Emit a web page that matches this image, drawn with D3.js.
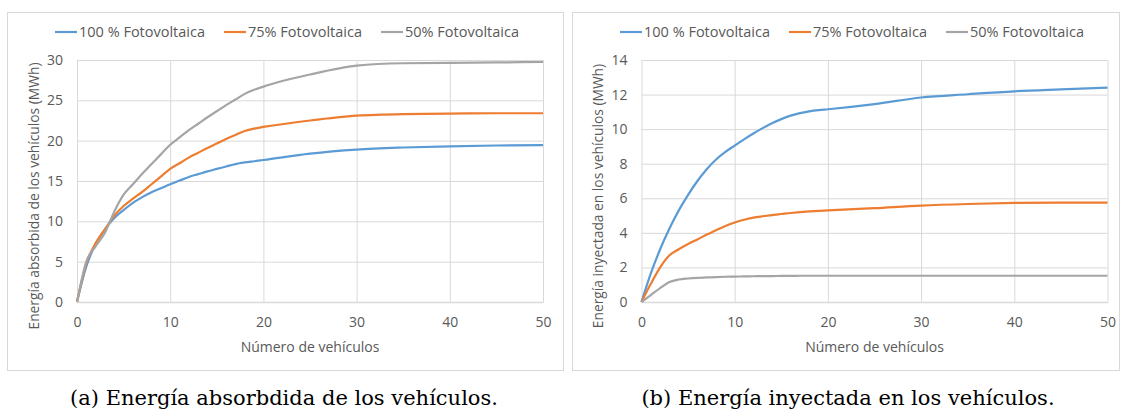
<!DOCTYPE html>
<html>
<head>
<meta charset="utf-8">
<script src="https://cdn.jsdelivr.net/npm/d3@7"></script>
<style>
  body { margin: 0; background: #fff; }
  svg { display: block; }
  .tick text { font-family: "Open Sans", sans-serif; font-size: 14px; fill: #595959; }
</style>
</head>
<body>
<svg width="1124" height="412"></svg>
<script>
// number of vehicles (x values shared by every series)
var vehiculos = [0, 1, 2, 3, 4, 5, 6, 7, 8, 9, 10, 11, 12, 13, 14, 15, 16, 17, 18, 19, 20, 25, 30, 35, 40, 45, 50];

var seriesNames = ["100 % Fotovoltaica", "75% Fotovoltaica", "50% Fotovoltaica"];
var colors = ["#5b9bd5", "#ed7d31", "#a5a5a5"];

// (a) energia absorbida (MWh)
var absorbida100 = [0, 4.4, 7.2, 9.0, 10.4, 11.4, 12.3, 13.0, 13.6, 14.1, 14.6, 15.05, 15.5, 15.85, 16.2, 16.5, 16.8, 17.1, 17.3, 17.45, 17.6, 18.4, 18.9, 19.15, 19.3, 19.4, 19.45];
var absorbida75  = [0, 4.8, 7.3, 9.0, 10.7, 11.9, 12.8, 13.65, 14.6, 15.55, 16.5, 17.2, 17.9, 18.5, 19.1, 19.65, 20.2, 20.7, 21.2, 21.5, 21.7, 22.5, 23.1, 23.3, 23.35, 23.4, 23.4];
var absorbida50  = [0, 5.0, 6.9, 8.6, 11.2, 13.3, 14.6, 15.9, 17.1, 18.3, 19.5, 20.4, 21.3, 22.1, 22.9, 23.65, 24.4, 25.1, 25.8, 26.3, 26.7, 28.2, 29.3, 29.6, 29.65, 29.7, 29.75];

// (b) energia inyectada (MWh)
var inyectada100 = [0, 1.65, 3.05, 4.25, 5.3, 6.2, 7.0, 7.68, 8.24, 8.68, 9.05, 9.41, 9.75, 10.06, 10.34, 10.58, 10.78, 10.93, 11.03, 11.1, 11.15, 11.45, 11.83, 12.02, 12.19, 12.3, 12.4];
var inyectada75  = [0, 1.05, 2.0, 2.7, 3.05, 3.35, 3.62, 3.9, 4.15, 4.4, 4.6, 4.76, 4.88, 4.96, 5.03, 5.09, 5.15, 5.2, 5.24, 5.27, 5.3, 5.43, 5.58, 5.67, 5.73, 5.75, 5.75];
var inyectada50  = [0, 0.4, 0.8, 1.15, 1.3, 1.36, 1.4, 1.42, 1.44, 1.46, 1.47, 1.48, 1.49, 1.5, 1.5, 1.51, 1.51, 1.52, 1.52, 1.52, 1.52, 1.52, 1.52, 1.52, 1.52, 1.52, 1.52];

var xTicks = [0, 10, 20, 30, 40, 50];
var yTicksA = [0, 5, 10, 15, 20, 25, 30];
var yTicksB = [0, 2, 4, 6, 8, 10, 12, 14];

var svg = d3.select("svg");

function panel(opts) {
	var g = svg.append("g").attr("transform", "translate(" + opts.left + ",0)");

	g.append("rect")
		.attr("x", 0.5).attr("y", 12.5)
		.attr("width", opts.boxWidth).attr("height", 358)
		.attr("fill", "#fff").attr("stroke", "#d9d9d9");

	var x = d3.scaleLinear().domain([0, 50]).range([opts.plotLeft, opts.plotLeft + 466]),
		y = d3.scaleLinear().domain([0, opts.yMax]).range([302, 60]);

	// gridlines
	g.append("g")
		.attr("transform", "translate(0,302)")
		.call(d3.axisBottom(x).tickValues(xTicks).tickSize(-242).tickFormat(""))
		.call(function(a) { a.select(".domain").remove(); })
		.selectAll("line").attr("stroke", "#d9d9d9");
	g.append("g")
		.attr("transform", "translate(" + opts.plotLeft + ",0)")
		.call(d3.axisLeft(y).tickValues(opts.yTicks).tickSize(-466).tickFormat(""))
		.call(function(a) { a.select(".domain").remove(); })
		.selectAll("line").attr("stroke", "#d9d9d9");

	// axis labels
	g.append("g")
		.attr("transform", "translate(0,302)")
		.call(d3.axisBottom(x).tickValues(xTicks).tickSize(0).tickPadding(15))
		.call(function(a) { a.select(".domain").attr("stroke", "#d9d9d9").attr("stroke-width", 1.5); });
	g.append("g")
		.attr("transform", "translate(" + opts.plotLeft + ",0)")
		.call(d3.axisLeft(y).tickValues(opts.yTicks).tickSize(0).tickPadding(14))
		.call(function(a) { a.select(".domain").remove(); });

	var line = d3.line()
		.curve(d3.curveMonotoneX)
		.x(function(d, i) { return x(vehiculos[i]); })
		.y(function(d) { return y(d); });

	g.selectAll(".serie")
		.data(opts.series)
		.enter().append("path")
		.attr("class", "serie")
		.attr("fill", "none")
		.attr("stroke", function(d, i) { return colors[i]; })
		.attr("stroke-width", 2.2)
		.attr("stroke-linejoin", "round")
		.attr("d", line);

	// legend
	var legendX = [48, 217, 374];
	var leg = g.selectAll(".leg")
		.data(seriesNames)
		.enter().append("g")
		.attr("class", "leg")
		.attr("transform", function(d, i) { return "translate(" + legendX[i] + ",32)"; });
	leg.append("line")
		.attr("x1", 0).attr("x2", 22)
		.attr("stroke", function(d, i) { return colors[i]; })
		.attr("stroke-width", 2.2);
	leg.append("text")
		.attr("x", 24).attr("dy", "0.35em")
		.style("font", "14.5px 'Open Sans', sans-serif")
		.attr("fill", "#595959")
		.text(function(d) { return d; });

	g.append("text")
		.attr("transform", "translate(" + (opts.plotLeft - 43) + ",196) rotate(-90)")
		.attr("text-anchor", "middle")
		.attr("dy", "0.35em")
		.style("font", "13.8px 'Open Sans', sans-serif")
		.attr("fill", "#595959")
		.text(opts.yTitle);

	g.append("text")
		.attr("x", opts.plotLeft + 233).attr("y", 347)
		.attr("text-anchor", "middle")
		.attr("dy", "0.35em")
		.style("font", "14px 'Open Sans', sans-serif")
		.attr("fill", "#595959")
		.text("Número de vehículos");

	g.append("text")
		.attr("x", opts.captionX).attr("y", 398)
		.attr("text-anchor", "middle")
		.attr("dy", "0.35em")
		.style("font", "21px 'DejaVu Serif', serif")
		.attr("fill", "#000")
		.text(opts.caption);
}

panel({
	left: 7, boxWidth: 556, plotLeft: 70, yMax: 30, yTicks: yTicksA,
	series: [absorbida100, absorbida75, absorbida50],
	yTitle: "Energía absorbida de los vehículos (MWh)",
	caption: "(a) Energía absorbdida de los vehículos.", captionX: 277
});
panel({
	left: 572, boxWidth: 547, plotLeft: 69.5, yMax: 14, yTicks: yTicksB,
	series: [inyectada100, inyectada75, inyectada50],
	yTitle: "Energía inyectada en los vehículos (MWh)",
	caption: "(b) Energía inyectada en los vehículos.", captionX: 276
});
</script>
</body>
</html>
